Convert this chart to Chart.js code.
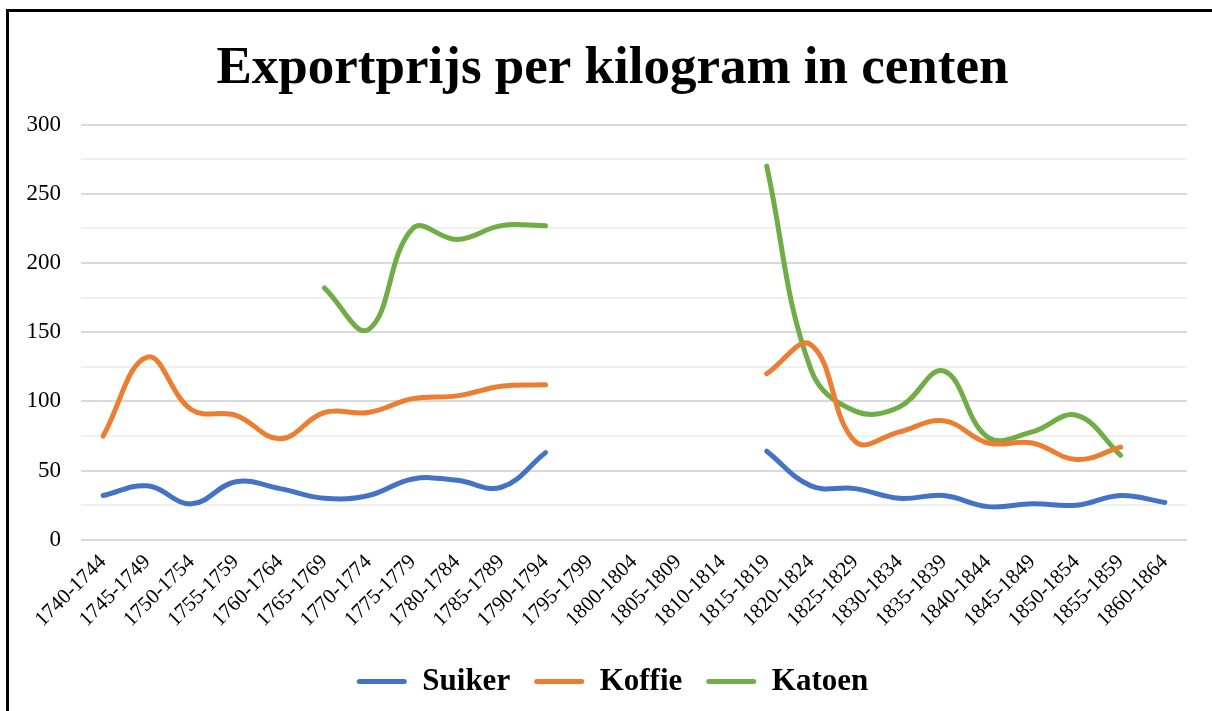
<!DOCTYPE html>
<html>
<head>
<meta charset="utf-8">
<script src="https://cdn.jsdelivr.net/npm/chart.js@4.4.1/dist/chart.umd.min.js"></script>
<style>
  html, body { margin: 0; padding: 0; background: #fff; }
  .wrap { position: absolute; left: 0; top: 0; width: 1212px; height: 711px; }
  .frame {
    position: absolute; left: 6px; top: 9px; width: 1300px; height: 800px;
    border-left: 3px solid #000; border-top: 3px solid #000; pointer-events: none;
  }
</style>
</head>
<body>
<div class="wrap">
  <canvas id="chart" width="1212" height="711"></canvas>
  <div class="frame"></div>
</div>
<script>
// categories (5 year periods)
const periods = [
  "1740-1744", "1745-1749", "1750-1754", "1755-1759", "1760-1764",
  "1765-1769", "1770-1774", "1775-1779", "1780-1784", "1785-1789",
  "1790-1794", "1795-1799", "1800-1804", "1805-1809", "1810-1814",
  "1815-1819", "1820-1824", "1825-1829", "1830-1834", "1835-1839",
  "1840-1844", "1845-1849", "1850-1854", "1855-1859", "1860-1864",
];

// series values, cents per kilogram (null = no data)
const suiker = [32, 39, 26, 42, 37, 30, 32, 44, 43, 38, 63, null, null, null, null,
  64, 39, 37, 30, 32, 24, 26, 25, 32, 27];
const koffie = [75, 132, 94, 90, 73, 92, 92, 102, 104, 111, 112, null, null, null, null,
  120, 141, 71, 78, 86, 70, 70, 58, 67, null];
const katoen = [null, null, null, null, null, 182, 152, 225, 217, 227, 227, null, null, null, null,
  270, 123, 93, 96, 122, 74, 78, 90, 61, null];

// y ticks: labels every 50, light gridlines every 25
const yMax = 300;
const yStep = 25;
const yLabelStep = 50;

const serif = "'Liberation Serif', 'Times New Roman', serif";

const mkSet = (label, values, color) => ({
  label: label,
  data: values,
  borderColor: color,
  backgroundColor: color,
  borderWidth: 5,
  tension: 0.4,
  pointRadius: 0,
  borderCapStyle: "round",
  borderJoinStyle: "round",
  spanGaps: false,
});

const config = {
  type: "line",
  data: {
    labels: periods,
    datasets: [
      mkSet("Suiker", suiker, "#4472C4"),
      mkSet("Koffie", koffie, "#ED7D31"),
      mkSet("Katoen", katoen, "#70AD47"),
    ],
  },
  options: {
    responsive: false,
    animation: false,
    layout: { padding: { left: 38, right: 25, top: 0, bottom: 4 } },
    scales: {
      x: {
        offset: true,
        grid: { display: false, drawTicks: false },
        border: { display: false },
        ticks: {
          color: "#000",
          font: { family: serif, size: 21 },
          minRotation: 45,
          maxRotation: 45,
          autoSkip: false,
          padding: 10,
        },
        // rotated labels may hang out to the left, don't let them push the plot
        afterFit: (scale) => {
          scale.paddingLeft = 0;
        },
      },
      y: {
        min: 0,
        max: yMax,
        grid: {
          drawTicks: false,
          lineWidth: 2,
          color: (ctx) => (ctx.tick && ctx.tick.value % yLabelStep === 0 ? "#d9d9d9" : "#f0f0f0"),
        },
        border: { display: false },
        ticks: {
          stepSize: yStep,
          color: "#000",
          font: { family: serif, size: 23 },
          padding: 20,
          callback: (v) => (v % yLabelStep === 0 ? v : ""),
        },
        // narrow axis box so title + legend center like the original,
        // labels are allowed to draw outside of it
        afterFit: (scale) => {
          scale.width = 43;
          scale._computeLabelArea = () => undefined;
        },
      },
    },
    plugins: {
      title: {
        display: true,
        text: "Exportprijs per kilogram in centen",
        color: "#000",
        font: { family: serif, size: 53, weight: "bold" },
        padding: { top: 38, bottom: 23 },
      },
      legend: {
        display: true,
        position: "bottom",
        labels: {
          color: "#000",
          font: { family: serif, size: 31, weight: "bold" },
          boxWidth: 50,
          boxHeight: 5,
          padding: 24,
          useBorderRadius: true,
          borderRadius: 2.5,
          generateLabels: (chart) =>
            Chart.defaults.plugins.legend.labels.generateLabels(chart).map((l) => ({ ...l, lineWidth: 0 })),
        },
      },
      tooltip: { enabled: false },
    },
  },
};

const myChart = new Chart(document.getElementById("chart"), config);
</script>
</body>
</html>
